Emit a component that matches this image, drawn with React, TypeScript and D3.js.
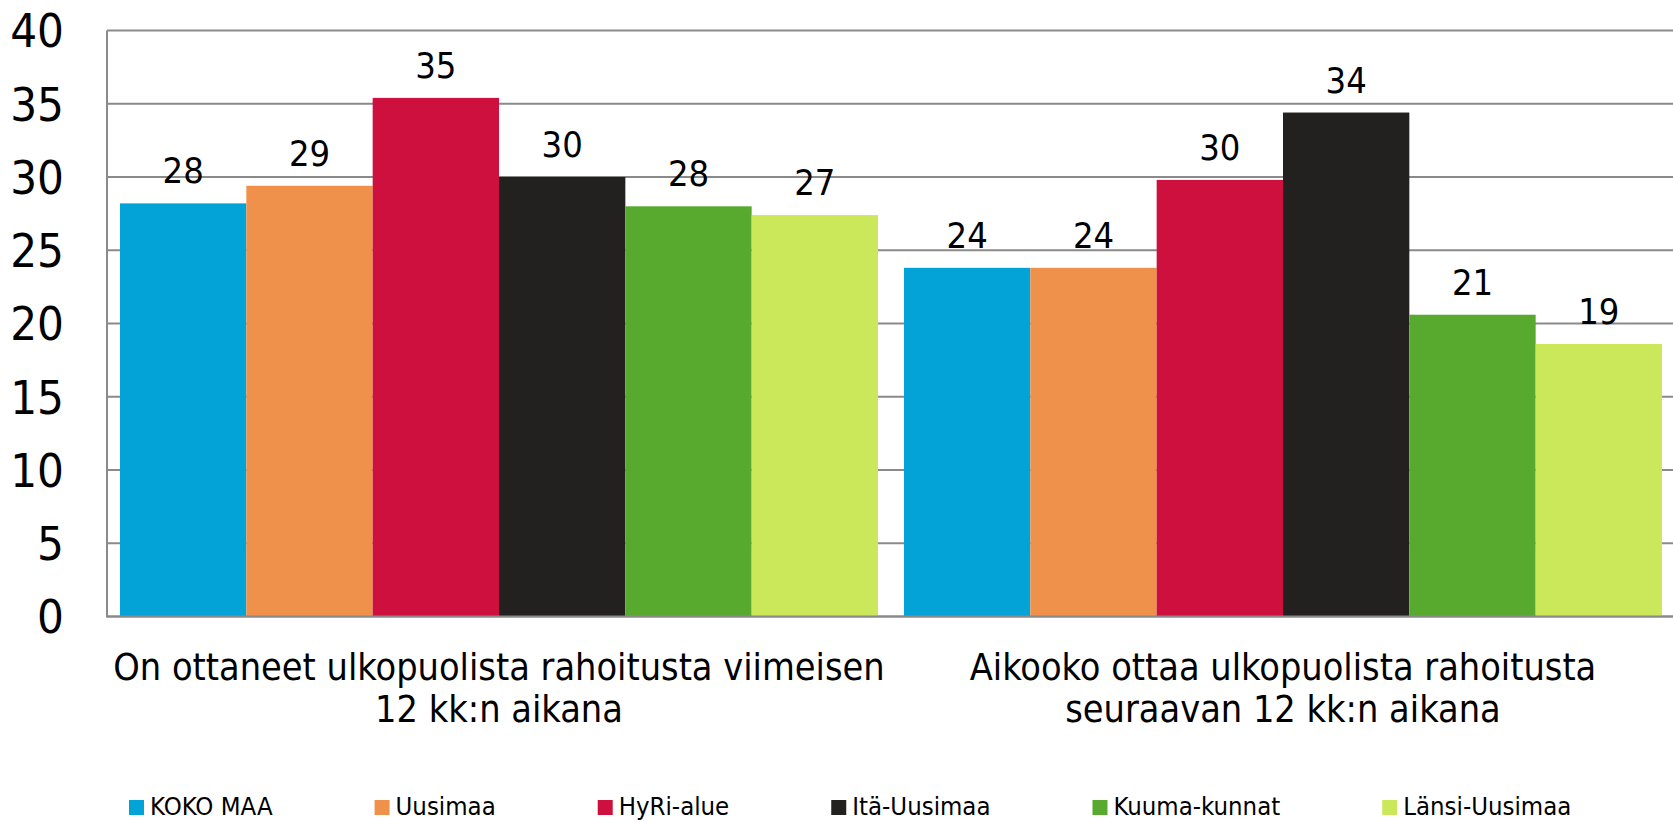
import { useEffect, useRef } from "react";
import * as d3 from "d3";

const categories = ["viimeiset", "seuraavat"];
const categoryLines = [
  ["On ottaneet ulkopuolista rahoitusta viimeisen", "12 kk:n aikana"],
  ["Aikooko ottaa ulkopuolista rahoitusta", "seuraavan 12 kk:n aikana"],
];
const seriesNames = [
  "KOKO MAA",
  "Uusimaa",
  "HyRi-alue",
  "Itä-Uusimaa",
  "Kuuma-kunnat",
  "Länsi-Uusimaa",
];
const kokoMaa = [28.2, 23.8];
const uusimaa = [29.4, 23.8];
const hyri = [35.4, 29.8];
const itaUusimaa = [30.0, 34.4];
const kuuma = [28.0, 20.6];
const lansiUusimaa = [27.4, 18.6];
const seriesValues = [kokoMaa, uusimaa, hyri, itaUusimaa, kuuma, lansiUusimaa];
const colors = ["#03a3d8", "#f0914b", "#cd103e", "#23211f", "#58aa2e", "#cbe75a"];
const yTicks = [0, 5, 10, 15, 20, 25, 30, 35, 40];

const WIDTH = 1673;
const HEIGHT = 822;
const FONT = "'DejaVu Sans Condensed', 'DejaVu Sans', sans-serif";

export default function App() {
  const svgRef = useRef<SVGSVGElement | null>(null);

  useEffect(() => {
    if (!svgRef.current) return;
    const svg = d3.select(svgRef.current);
    svg.selectAll("*").remove();

    const margin = { top: 30.5, left: 107, bottom: 616.5, right: 1675 };

    const x0 = d3
      .scaleBand<string>()
      .domain(categories)
      .range([margin.left, margin.right])
      .paddingInner(26 / 784)
      .paddingOuter(13 / 784);

    const x1 = d3
      .scaleBand<string>()
      .domain(seriesNames)
      .range([0, x0.bandwidth()]);

    const y = d3.scaleLinear().domain([0, 40]).range([margin.bottom, margin.top]);

    // gridlines
    svg
      .append("g")
      .selectAll("line")
      .data(yTicks)
      .join("line")
      .attr("x1", margin.left)
      .attr("x2", WIDTH)
      .attr("y1", (d) => y(d))
      .attr("y2", (d) => y(d))
      .attr("stroke", "#8a8a8a")
      .attr("stroke-width", 2);

    // left axis line
    svg
      .append("line")
      .attr("x1", margin.left)
      .attr("x2", margin.left)
      .attr("y1", y(40))
      .attr("y2", y(0) + 1)
      .attr("stroke", "#8a8a8a")
      .attr("stroke-width", 2);

    // tick labels
    svg
      .append("g")
      .selectAll("text")
      .data(yTicks)
      .join("text")
      .attr("x", 64)
      .attr("y", (d) => y(d))
      .attr("dy", "0.36em")
      .attr("text-anchor", "end")
      .attr("font-family", FONT)
      .attr("font-size", 47)
      .attr("fill", "#000")
      .text((d) => d);

    // bars
    const groups = svg
      .append("g")
      .selectAll("g")
      .data(categories)
      .join("g")
      .attr("transform", (d) => `translate(${x0(d)},0)`);

    groups.each(function (_c, ci) {
      const g = d3.select(this);
      const rows = seriesNames.map((name, si) => ({
        name,
        value: seriesValues[si][ci],
        color: colors[si],
      }));
      g.selectAll("rect")
        .data(rows)
        .join("rect")
        .attr("x", (d) => x1(d.name) ?? 0)
        .attr("y", (d) => y(d.value))
        .attr("width", x1.bandwidth())
        .attr("height", (d) => y(0) - y(d.value))
        .attr("fill", (d) => d.color);
      g.selectAll("text")
        .data(rows)
        .join("text")
        .attr("x", (d) => (x1(d.name) ?? 0) + x1.bandwidth() / 2)
        .attr("y", (d) => y(d.value) - 20)
        .attr("text-anchor", "middle")
        .attr("font-family", FONT)
        .attr("font-size", 36)
        .attr("fill", "#000")
        .text((d) => Math.round(d.value));
    });

    // baseline
    svg
      .append("line")
      .attr("x1", margin.left)
      .attr("x2", WIDTH)
      .attr("y1", y(0))
      .attr("y2", y(0))
      .attr("stroke", "#8a8a8a")
      .attr("stroke-width", 2);

    // category labels
    categories.forEach((c, ci) => {
      const cx = (x0(c) ?? 0) + x0.bandwidth() / 2;
      const t = svg
        .append("text")
        .attr("x", cx)
        .attr("y", 680)
        .attr("text-anchor", "middle")
        .attr("font-family", FONT)
        .attr("font-size", 37.5)
        .attr("fill", "#000");
      categoryLines[ci].forEach((line, li) => {
        t.append("tspan")
          .attr("x", cx)
          .attr("dy", li === 0 ? 0 : 42)
          .text(line);
      });
    });

    // legend
    const legend = svg.append("g");
    let lx = 129;
    seriesNames.forEach((name, si) => {
      legend
        .append("rect")
        .attr("x", lx)
        .attr("y", 800)
        .attr("width", 15)
        .attr("height", 15)
        .attr("fill", colors[si]);
      const txt = legend
        .append("text")
        .attr("x", lx + 21)
        .attr("y", 815)
        .attr("font-family", FONT)
        .attr("font-size", 25.5)
        .attr("fill", "#000")
        .text(name);
      const w = (txt.node() as SVGTextElement).getComputedTextLength();
      lx += 21 + w + 102;
    });
  }, []);

  return (
    <svg
      ref={svgRef}
      width={WIDTH}
      height={HEIGHT}
      style={{ position: "absolute", left: 0, top: 0, background: "#fff" }}
    />
  );
}
